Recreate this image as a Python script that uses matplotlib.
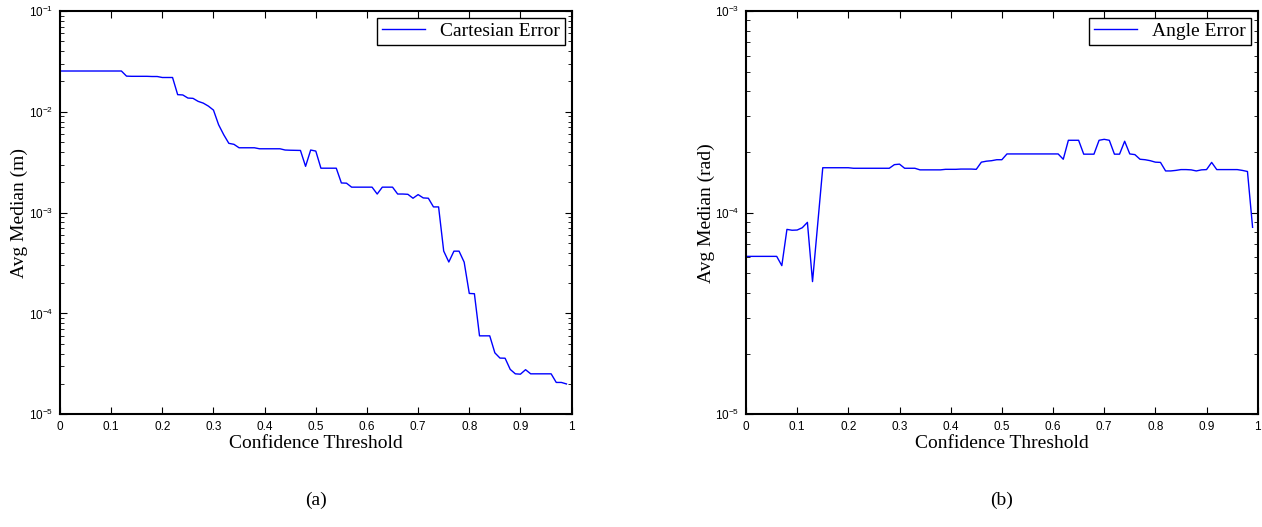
import numpy as np
import matplotlib
matplotlib.use("Agg")
import matplotlib.pyplot as plt
from matplotlib.ticker import LogLocator, FixedLocator, FixedFormatter, NullFormatter

plt.rcParams['mathtext.fontset'] = 'custom'
plt.rcParams['mathtext.rm'] = 'Liberation Sans'
plt.rcParams['mathtext.it'] = 'Liberation Sans'

thresholds = [round(i * 0.01, 2) for i in range(100)]

cartesian_error = [
    0.0254, 0.0254, 0.0254, 0.0254, 0.0254, 0.0254, 0.0254, 0.0254, 0.0254, 0.0254,
    0.0254, 0.0254, 0.0254, 0.0226, 0.0225, 0.0225, 0.0225, 0.0225, 0.0224, 0.0224,
    0.0219, 0.0219, 0.0219, 0.0148, 0.0147, 0.0137, 0.0136, 0.0127, 0.0122, 0.0114,
    0.0104, 0.00745, 0.00593, 0.00487, 0.00476, 0.0044, 0.0044, 0.0044, 0.0044, 0.0043,
    0.0043, 0.0043, 0.0043, 0.0043, 0.00418, 0.00416, 0.00415, 0.00414, 0.00288, 0.00418,
    0.00408, 0.00276, 0.00276, 0.00276, 0.00276, 0.00197, 0.00196, 0.00179, 0.00179, 0.00179,
    0.00179, 0.00179, 0.00153, 0.00179, 0.00179, 0.00179, 0.00153, 0.00153, 0.00152, 0.00139,
    0.00151, 0.0014, 0.00139, 0.00114, 0.00114, 0.000416, 0.000324, 0.000415, 0.000415, 0.000323,
    0.000158, 0.000157, 6.0e-5, 6.0e-5, 6.0e-5, 4.07e-5, 3.61e-5, 3.6e-5, 2.79e-5, 2.52e-5,
    2.5e-5, 2.77e-5, 2.52e-5, 2.52e-5, 2.52e-5, 2.52e-5, 2.52e-5, 2.07e-5, 2.07e-5, 2.0e-5,
]

angle_error = [
    6.07e-5, 6.07e-5, 6.07e-5, 6.07e-5, 6.07e-5, 6.07e-5, 6.07e-5, 5.46e-5, 8.26e-5, 8.18e-5,
    8.2e-5, 8.42e-5, 8.95e-5, 4.55e-5, 8.7e-5, 1.67e-4, 1.67e-4, 1.67e-4, 1.67e-4, 1.67e-4,
    1.67e-4, 1.66e-4, 1.66e-4, 1.66e-4, 1.66e-4, 1.66e-4, 1.66e-4, 1.66e-4, 1.66e-4, 1.73e-4,
    1.74e-4, 1.66e-4, 1.66e-4, 1.66e-4, 1.63e-4, 1.63e-4, 1.63e-4, 1.63e-4, 1.63e-4, 1.64e-4,
    1.64e-4, 1.64e-4, 1.645e-4, 1.645e-4, 1.645e-4, 1.64e-4, 1.78e-4, 1.80e-4, 1.81e-4, 1.83e-4,
    1.83e-4, 1.955e-4, 1.955e-4, 1.955e-4, 1.955e-4, 1.955e-4, 1.955e-4, 1.955e-4, 1.955e-4, 1.955e-4,
    1.955e-4, 1.955e-4, 1.84e-4, 2.285e-4, 2.285e-4, 2.285e-4, 1.95e-4, 1.95e-4, 1.95e-4, 2.285e-4,
    2.31e-4, 2.285e-4, 1.95e-4, 1.95e-4, 2.26e-4, 1.955e-4, 1.94e-4, 1.84e-4, 1.83e-4, 1.81e-4,
    1.78e-4, 1.775e-4, 1.61e-4, 1.61e-4, 1.62e-4, 1.635e-4, 1.635e-4, 1.63e-4, 1.61e-4, 1.63e-4,
    1.635e-4, 1.775e-4, 1.635e-4, 1.635e-4, 1.635e-4, 1.635e-4, 1.635e-4, 1.62e-4, 1.60e-4, 8.46e-5,
]

x_ticks = [0, 0.1, 0.2, 0.3, 0.4, 0.5, 0.6, 0.7, 0.8, 0.9, 1]
x_tick_labels = ['0', '0.1', '0.2', '0.3', '0.4', '0.5', '0.6', '0.7', '0.8', '0.9', '1']

W, H = 1262, 527
fig = plt.figure(figsize=(W / 100, H / 100), dpi=100)

serif = 'Liberation Serif'
sans = 'Liberation Sans'

def style_axes(ax, ylo_exp, yhi_exp):
    ax.set_yscale('log')
    ax.set_xlim(0, 1)
    ax.set_ylim(10.0 ** ylo_exp, 10.0 ** yhi_exp)
    ax.xaxis.set_major_locator(FixedLocator(x_ticks))
    ax.xaxis.set_major_formatter(FixedFormatter(x_tick_labels))
    decades = [10.0 ** e for e in range(ylo_exp, yhi_exp + 1)]
    ax.yaxis.set_major_locator(FixedLocator(decades))
    ax.yaxis.set_major_formatter(FixedFormatter([r'$10^{%d}$' % e for e in range(ylo_exp, yhi_exp + 1)]))
    ax.yaxis.set_minor_locator(LogLocator(base=10, subs=np.arange(2, 10), numticks=20))
    ax.yaxis.set_minor_formatter(NullFormatter())
    ax.tick_params(which='both', direction='in', top=True, right=True)
    ax.tick_params(which='major', length=5, width=0.8, labelsize=8.5, pad=5)
    ax.tick_params(which='minor', length=3, width=0.6)
    for lab in ax.get_xticklabels() + ax.get_yticklabels():
        lab.set_fontfamily(sans)
    for sp in ax.spines.values():
        sp.set_linewidth(1.5)

ax1 = fig.add_axes([60 / W, 1 - 414.3 / H, 511.6 / W, 403.3 / H])
ax1.plot(thresholds, cartesian_error, color='#0000ff', lw=1.0, label='Cartesian Error')
style_axes(ax1, -5, -1)
ax1.set_xlabel('Confidence Threshold', fontfamily=serif, fontsize=14, labelpad=1)
ax1.set_ylabel('Avg Median (m)', fontfamily=serif, fontsize=14)
ax1.yaxis.set_label_coords(-0.0625, 0.5)
leg1 = ax1.legend(loc='upper right', prop={'family': serif, 'size': 14}, frameon=True,
                  fancybox=False, edgecolor='black', framealpha=1, borderpad=0.25,
                  handlelength=2.2, handletextpad=0.8, borderaxespad=0.35)
leg1.get_frame().set_linewidth(1.0)

ax2 = fig.add_axes([746 / W, 1 - 414.3 / H, 511.7 / W, 403.3 / H])
ax2.plot(thresholds, angle_error, color='#0000ff', lw=1.0, label='Angle Error')
style_axes(ax2, -5, -3)
ax2.set_xlabel('Confidence Threshold', fontfamily=serif, fontsize=14, labelpad=1)
ax2.set_ylabel('Avg Median (rad)', fontfamily=serif, fontsize=14)
ax2.yaxis.set_label_coords(-0.0606, 0.5)
leg2 = ax2.legend(loc='upper right', prop={'family': serif, 'size': 14}, frameon=True,
                  fancybox=False, edgecolor='black', framealpha=1, borderpad=0.25,
                  handlelength=2.2, handletextpad=0.8, borderaxespad=0.35)
leg2.get_frame().set_linewidth(1.0)

fig.text(316 / W, 1 - 500 / H, '(a)', fontfamily=serif, fontsize=14, ha='center', va='center')
fig.text(1002 / W, 1 - 500 / H, '(b)', fontfamily=serif, fontsize=14, ha='center', va='center')

fig.savefig('out.png', dpi=100)
